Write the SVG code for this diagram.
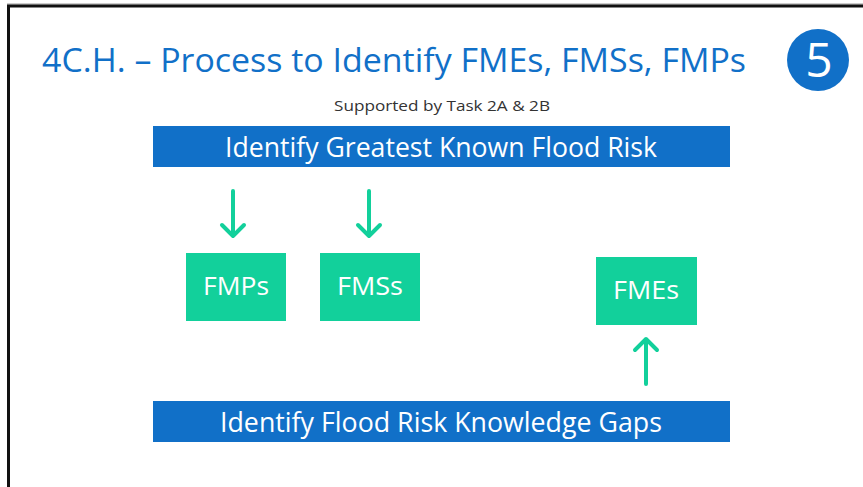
<svg xmlns="http://www.w3.org/2000/svg" width="863" height="487" viewBox="0 0 863 487">
<style>
.bar{fill:#1170c8}
.box{fill:#12d09b}
.wt{fill:#ffffff;font-family:"Open Sans","Noto Sans",sans-serif;text-anchor:middle}
.arrow{stroke:#12d09b;stroke-width:4;stroke-linecap:round;stroke-linejoin:round;fill:none}
</style>
<rect x="0" y="0" width="863" height="487" fill="#ffffff"/>
<line x1="7" y1="4" x2="863" y2="4" stroke="#999" stroke-width="1"/>
<path d="M8.5 487 V6 H863" fill="none" stroke="#111" stroke-width="3"/>
<text x="42" y="72" font-family="Open Sans, Noto Sans, sans-serif" font-size="33" fill="#1170c8" textLength="704" lengthAdjust="spacingAndGlyphs">4C.H. – Process to Identify FMEs, FMSs, FMPs</text>
<text x="442" y="111" font-family="Open Sans, Noto Sans, sans-serif" font-size="15" fill="#333" text-anchor="middle" textLength="216" lengthAdjust="spacingAndGlyphs">Supported by Task 2A &amp; 2B</text>
<g id="badge">
<circle cx="818" cy="60" r="31" fill="#1170c8"/>
<text x="819" y="77" class="wt" font-size="48">5</text>
</g>
<g id="greatest">
<rect class="bar" x="153" y="126" width="577" height="41"/>
<text class="wt" x="441" y="157" font-size="27" textLength="432" lengthAdjust="spacingAndGlyphs">Identify Greatest Known Flood Risk</text>
</g>
<g id="gaps">
<rect class="bar" x="153" y="401" width="577" height="41"/>
<text class="wt" x="441" y="432" font-size="27" textLength="442" lengthAdjust="spacingAndGlyphs">Identify Flood Risk Knowledge Gaps</text>
</g>
<g id="fmps">
<rect class="box" x="186" y="253" width="100" height="68"/>
<text class="wt" x="236" y="295" font-size="25" textLength="66" lengthAdjust="spacingAndGlyphs">FMPs</text>
</g>
<g id="fmss">
<rect class="box" x="320" y="253" width="100" height="68"/>
<text class="wt" x="370" y="295" font-size="25" textLength="66" lengthAdjust="spacingAndGlyphs">FMSs</text>
</g>
<g id="fmes">
<rect class="box" x="596" y="257" width="101" height="68"/>
<text class="wt" x="646" y="299" font-size="25" textLength="66" lengthAdjust="spacingAndGlyphs">FMEs</text>
</g>
<g id="connectors">
<path class="arrow" d="M233 191 V236 M222 225 L233 236 L244 225"/>
<path class="arrow" d="M369 191 V236 M358 225 L369 236 L380 225"/>
<path class="arrow" d="M646 384 V339 M635 350 L646 339 L657 350"/>
</g>
</svg>
